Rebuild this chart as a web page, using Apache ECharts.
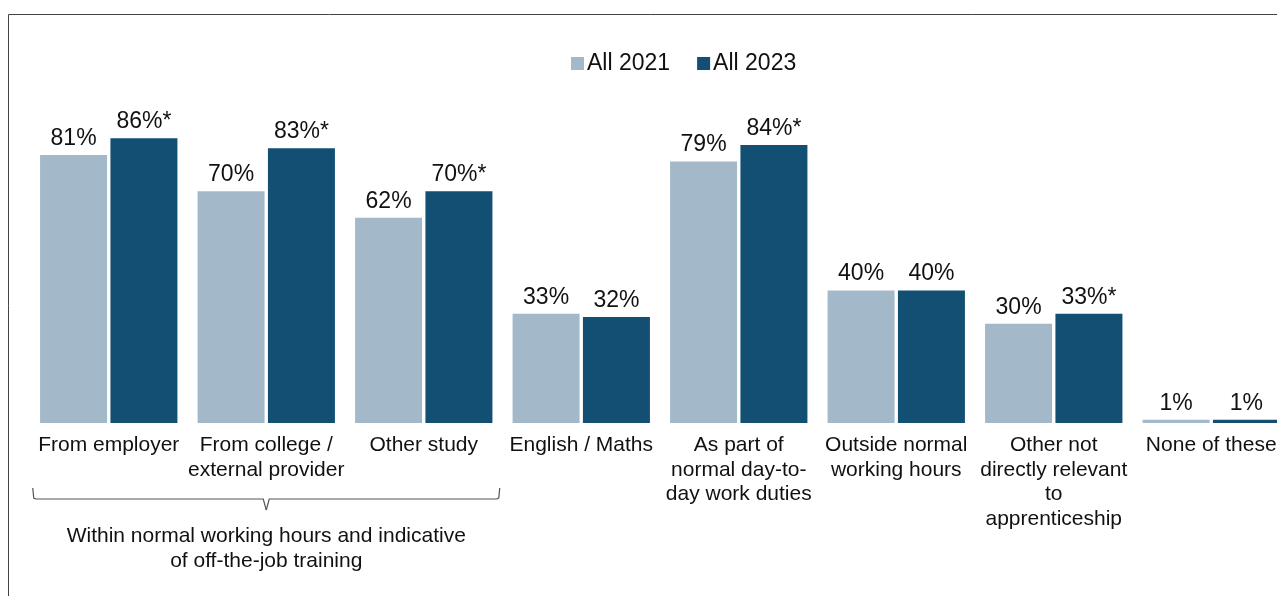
<!DOCTYPE html>
<html>
<head>
<meta charset="utf-8">
<script src="https://cdn.jsdelivr.net/npm/echarts@6/dist/echarts.min.js"></script>
<style>
  html, body { margin: 0; padding: 0; background: #fff; overflow: hidden; }
  #chart { width: 1292px; height: 596px; }
</style>
</head>
<body>
<div id="chart"></div>
<script>
// Categories of work/study activity
const categories = [
  'From employer',
  'From college /\nexternal provider',
  'Other study',
  'English / Maths',
  'As part of\nnormal day-to-\nday work duties',
  'Outside normal\nworking hours',
  'Other not\ndirectly relevant\nto\napprenticeship',
  'None of these'
];
// Share of apprentices (%)
const all2021 = [81, 70, 62, 33, 79, 40, 30, 1];
const all2023 = [86, 83, 70, 32, 84, 40, 33, 1];
// Significant change since 2021 (marked with *)
const sig2023 = [true, true, true, false, true, false, true, false];

const seriesNames = ['All 2021', 'All 2023'];
const bracketText = 'Within normal working hours and indicative\nof off-the-job training';
const bracketGroup = [0, 2]; // first and last category under the bracket

const FONT = 'Liberation Sans, Arial, sans-serif';
const TEXT = '#111';
const LIGHT = '#a3b9c9';
const DARK = '#124f72';

const chart = echarts.init(document.getElementById('chart'), null, { renderer: 'canvas' });

const valueLabel = {
  show: true,
  position: 'top',
  distance: 5,
  fontFamily: FONT,
  fontSize: 23,
  color: TEXT
};

const option = {
  animation: false,
  backgroundColor: '#fff',
  textStyle: { fontFamily: FONT, color: TEXT },
  legend: {
    data: seriesNames,
    left: 566,
    top: 47,
    itemWidth: 13,
    itemHeight: 13,
    itemGap: 27,
    icon: 'rect',
    textStyle: { fontFamily: FONT, fontSize: 23, color: TEXT, padding: [0, 0, 0, -2] }
  },
  grid: { left: 30, right: 2, top: 92, bottom: 173, containLabel: false },
  xAxis: {
    type: 'category',
    data: categories,
    axisLine: { show: false },
    axisTick: { show: false },
    axisLabel: {
      interval: 0,
      margin: 10,
      fontFamily: FONT,
      fontSize: 21,
      lineHeight: 24.5,
      color: TEXT,
      align: 'center',
      verticalAlign: 'top'
    }
  },
  yAxis: {
    type: 'value',
    min: 0,
    max: 100,
    show: false,
    splitLine: { show: false }
  },
  series: [
    {
      name: seriesNames[0],
      type: 'bar',
      data: all2021,
      barWidth: 67,
      barGap: '5%',
      itemStyle: { color: LIGHT },
      label: Object.assign({}, valueLabel, { formatter: p => p.value + '%' })
    },
    {
      name: seriesNames[1],
      type: 'bar',
      data: all2023,
      barWidth: 67,
      barGap: '5%',
      itemStyle: { color: DARK },
      label: Object.assign({}, valueLabel, {
        formatter: p => p.value + '%' + (sig2023[p.dataIndex] ? '*' : '')
      })
    }
  ]
};

chart.setOption(option);

// Bracket grouping the first three categories, placed from the axis scale
function drawBracket() {
  const x0 = chart.convertToPixel({ xAxisIndex: 0 }, bracketGroup[0]);
  const x1 = chart.convertToPixel({ xAxisIndex: 0 }, bracketGroup[1]);
  const base = chart.convertToPixel({ yAxisIndex: 0 }, 0);
  const half = 76;
  const left = x0 - half;
  const right = x1 + half;
  const mid = (left + right) / 2;
  const yTop = base + 65;
  const yLine = base + 76;
  const yTip = base + 87;
  const w = chart.getWidth();
  chart.setOption({
    graphic: [
      {
        type: 'polyline',
        silent: true,
        shape: { points: [[left, yTop], [left + 1, yLine - 1], [left + 3, yLine], [mid - 3, yLine], [mid, yTip]] },
        style: { stroke: '#555', lineWidth: 1.2, fill: null }
      },
      {
        type: 'polyline',
        silent: true,
        shape: { points: [[right, yTop], [right - 1, yLine - 1], [right - 3, yLine], [mid + 3, yLine], [mid, yTip]] },
        style: { stroke: '#555', lineWidth: 1.2, fill: null }
      },
      {
        type: 'text',
        silent: true,
        x: mid,
        y: base + 101,
        style: {
          text: bracketText,
          fontFamily: FONT,
          fontSize: 21,
          lineHeight: 25,
          fill: TEXT,
          align: 'center',
          verticalAlign: 'top'
        }
      },
      // frame lines along the top and left edges
      {
        type: 'line',
        silent: true,
        shape: { x1: 8.5, y1: 14.5, x2: w, y2: 14.5 },
        style: { stroke: '#444', lineWidth: 1 }
      },
      {
        type: 'line',
        silent: true,
        shape: { x1: 8.5, y1: 14.5, x2: 8.5, y2: 596 },
        style: { stroke: '#444', lineWidth: 1 }
      }
    ]
  });
}
drawBracket();
</script>
</body>
</html>
